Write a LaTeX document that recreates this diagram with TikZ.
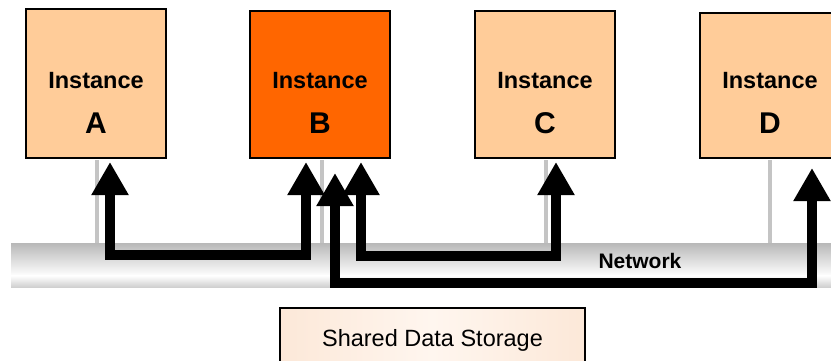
\documentclass[tikz,border=0pt]{standalone}
\usepackage{fontspec}
\setmainfont{Liberation Sans}
\usetikzlibrary{arrows.meta,calc}
\definecolor{peach}{HTML}{FFCC99}
\definecolor{hot}{HTML}{FF6600}
\definecolor{storA}{HTML}{FCE8D8}
\definecolor{storB}{HTML}{FFF6EF}
\definecolor{bartop}{HTML}{B8B8B8}
\definecolor{barbot}{HTML}{D0D0D0}
\definecolor{dropc}{HTML}{C4C4C4}
\begin{document}
\begin{tikzpicture}[x=1pt,y=-1pt,
  inst/.style={draw=black,line width=2pt,minimum width=140pt,inner sep=0pt,anchor=south},
  lbl/.style={font=\bfseries\fontsize{23.5}{28}\selectfont,anchor=base,inner sep=0pt},
  letter/.style={font=\bfseries\fontsize{30}{34}\selectfont,anchor=base,inner sep=0pt},
  bigarrow/.style={line width=10pt,line join=miter,{Triangle[length=33pt,width=35pt]}-{Triangle[length=33pt,width=35pt]}},
  dropline/.style={draw=dropc,line width=4pt}]
\useasboundingbox (0,0) rectangle (831,360);
\clip (0,0) rectangle (831,360);
% network bar
\fill[top color=bartop,bottom color=white] (11,243) rectangle (840,276);
\fill[top color=white,bottom color=barbot] (11,275.5) rectangle (840,287);
% instances
\node[inst,fill=peach,minimum height=149pt] (A) at (96,159) {};
\node[inst,fill=hot,minimum height=147pt] (B) at (320,159) {};
\node[inst,fill=peach,minimum height=147pt] (C) at (545,159) {};
\node[inst,fill=peach,minimum height=145pt] (D) at (770,159) {};
% drop lines
\draw[dropline] ($(A.south)+(1,1)$) -- ++(0,83);
\draw[dropline] ($(B.south)+(1.5,1)$) -- ++(0,83);
\draw[dropline] ($(C.south)+(1,1)$) -- ++(0,83);
\draw[dropline] ($(D.south)+(0,1)$) -- ++(0,83);
% labels
\foreach \n/\l in {A/A,B/B,C/C,D/D}{
  \node[lbl] (\n-i) at ($(\n.south)+(0,-70.5)$) {Instance};
  \node[letter] (\n-l) at ($(\n.south)+(0,-25.5)$) {\l};
}
\node[font=\bfseries\fontsize{21}{25}\selectfont,anchor=base,inner sep=0pt] (net) at (640,268) {Network};
% storage
\node[draw=black,line width=2pt,minimum width=305pt,minimum height=64pt,inner sep=0pt,
  left color=storA,right color=storA,middle color=storB,
  font=\fontsize{23.5}{28}\selectfont,anchor=north] (S) at (432.5,307) {Shared Data Storage};
% arrows
\draw[bigarrow] ($(B.south)+(15,14)$) |- ($(D.south)+(42,124)$) -- ($(D.south)+(42,9)$);
\draw[bigarrow] ($(B.south)+(41,3)$) |- ($(C.south)+(11,97)$) -- ($(C.south)+(11,3)$);
\draw[bigarrow] ($(A.south)+(14,3)$) |- ($(B.south)+(-14,96)$) -- ($(B.south)+(-14,3)$);
\end{tikzpicture}
\end{document}
